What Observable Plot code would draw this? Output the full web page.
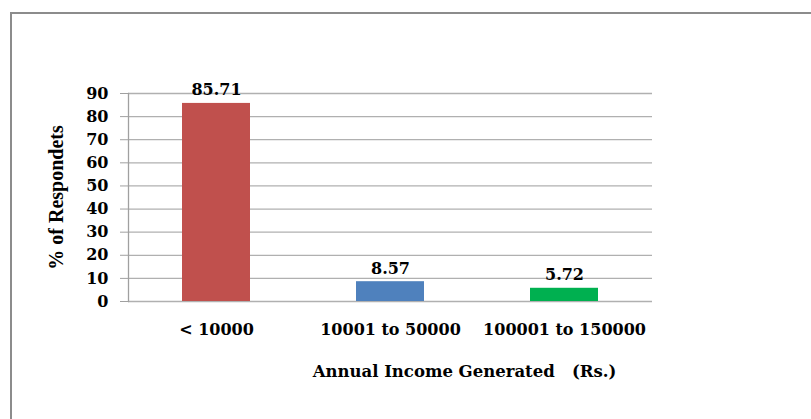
<!DOCTYPE html>
<html>
<head>
<meta charset="utf-8">
<script src="https://cdn.jsdelivr.net/npm/d3@7"></script>
<script src="https://cdn.jsdelivr.net/npm/@observablehq/plot@0.6"></script>
<style>
  html, body { margin: 0; padding: 0; background: #fff; }
  #wrap { position: relative; width: 811px; height: 419px; overflow: hidden; }
  #border { position: absolute; left: 10px; top: 12px; width: 820px; height: 430px;
            border: 2px solid #8c8c8c; box-sizing: border-box; pointer-events: none; }
  #chart { position: absolute; left: 0; top: 0; }
</style>
</head>
<body>
<div id="wrap"><div id="chart"></div><div id="border"></div></div>
<script>
const categories = ["< 10000", "10001 to 50000", "100001 to 150000"];
const values = [85.71, 8.57, 5.72];
const colors = ["#C0504D", "#4F81BD", "#00B050"];
const yTicks = [0, 10, 20, 30, 40, 50, 60, 70, 80, 90];
const xTitle = "Annual Income Generated   (Rs.)";
const yTitle = "% of Respondets";

const data = categories.map((c, i) => ({category: c, value: values[i], color: colors[i]}));

const tickFont = "'DejaVu Serif', serif";

const chart = Plot.plot({
  width: 811,
  height: 419,
  marginLeft: 128,
  marginRight: 159,
  marginTop: 93,
  marginBottom: 118,
  style: {fontFamily: tickFont, fontSize: "16px", fontWeight: "bold", color: "#000", background: "#fff"},
  x: {domain: categories, paddingInner: 0.61, paddingOuter: 0.305, label: null},
  y: {domain: [0, 90], label: null},
  marks: [
    Plot.ruleY(yTicks, {stroke: "#b0b0b0", strokeWidth: 1.3}),
    Plot.frame({anchor: "left", stroke: "#a0a0a0", strokeWidth: 1.3}),
    Plot.barY(data, {x: "category", y: "value", fill: "color"}),
    Plot.text(data, {x: "category", y: "value", text: d => d.value.toFixed(2), lineAnchor: "bottom", dy: -8,
      fontSize: 16, fontWeight: "bold", fill: "#000"}),
    Plot.axisY({ticks: yTicks, tickSize: 8, tickPadding: 12, stroke: "#a0a0a0", label: null,
      fontSize: 16, fontWeight: "bold", fill: "#000"}),
    Plot.axisX({tickSize: 0, tickPadding: 22, label: null, fontSize: 16, fontWeight: "bold", fill: "#000"}),
    Plot.text([xTitle], {frameAnchor: "bottom", text: d => d, dy: 70, dx: 74, lineAnchor: "middle",
      fontFamily: tickFont, fontSize: 16.5, fontWeight: "bold", fill: "#000"}),
    Plot.text([yTitle], {frameAnchor: "left", text: d => d, dx: -72, rotate: -90, lineAnchor: "middle",
      textAnchor: "middle",
      fontFamily: "'Liberation Serif', 'Times New Roman', serif", fontSize: 20, fontWeight: "bold", fill: "#000"})
  ]
});
document.getElementById("chart").appendChild(chart);
</script>
</body>
</html>
